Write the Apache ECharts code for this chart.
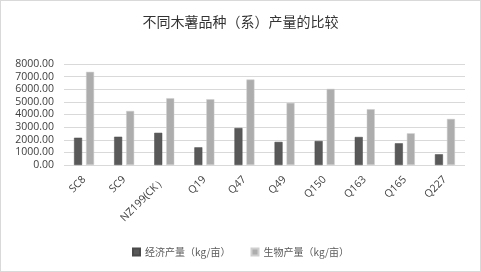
<!DOCTYPE html>
<html>
<head>
<meta charset="utf-8">
<script src="https://cdn.jsdelivr.net/npm/echarts@6/dist/echarts.min.js"></script>
<style>
  html, body { margin: 0; padding: 0; background: #fff; }
  #main { width: 479px; height: 270px; border: 1px solid #d9d9d9; }
</style>
</head>
<body>
<div id="main"></div>
<script>
var categories = ["SC8", "SC9", "NZ199(CK）", "Q19", "Q47", "Q49", "Q150", "Q163", "Q165", "Q227"];
var economicYield = [2160, 2240, 2550, 1400, 2930, 1830, 1900, 2220, 1720, 850];
var biomassYield = [7380, 4280, 5290, 5210, 6770, 4920, 6030, 4420, 2510, 3650];
var seriesNames = ["经济产量（kg/亩）", "生物产量（kg/亩）"];

var chartDom = document.getElementById("main");
var myChart = echarts.init(chartDom);

var option = {
  animation: false,
  title: {
    text: "不同木薯品种（系）产量的比较",
    left: "center",
    top: 9,
    textStyle: {
      fontFamily: "Noto Sans CJK SC",
      fontSize: 14,
      fontWeight: "normal",
      color: "#333"
    }
  },
  legend: {
    bottom: 9,
    itemWidth: 7,
    itemHeight: 7,
    itemGap: 20,
    icon: "rect",
    textStyle: { fontFamily: "Noto Sans CJK SC", fontSize: 10, color: "#595959" },
    data: seriesNames
  },
  grid: { left: 63, right: 15, top: 63, bottom: 106 },
  xAxis: {
    type: "category",
    data: categories,
    axisLine: { show: false },
    axisTick: { show: false },
    axisLabel: {
      rotate: 45,
      interval: 0,
      fontSize: 10.5,
      color: "#404040",
      margin: 13,
      fontFamily: "Open Sans"
    }
  },
  yAxis: {
    type: "value",
    min: 0,
    max: 8000,
    interval: 1000,
    axisLabel: {
      fontSize: 10.5,
      color: "#404040",
      margin: 10,
      fontFamily: "Open Sans",
      formatter: function (v) { return v.toFixed(2); }
    },
    splitLine: { lineStyle: { color: "#d9d9d9" } }
  },
  series: [
    {
      name: seriesNames[0],
      type: "bar",
      data: economicYield,
      barWidth: 8,
      barGap: "50%",
      itemStyle: { color: "#595959", borderColor: "#4a4a4a", borderWidth: 0.5 }
    },
    {
      name: seriesNames[1],
      type: "bar",
      data: biomassYield,
      barWidth: 8,
      itemStyle: { color: "#adadad", borderColor: "#cfcfcf", borderWidth: 0.5 }
    }
  ]
};

option && myChart.setOption(option);
</script>
</body>
</html>
